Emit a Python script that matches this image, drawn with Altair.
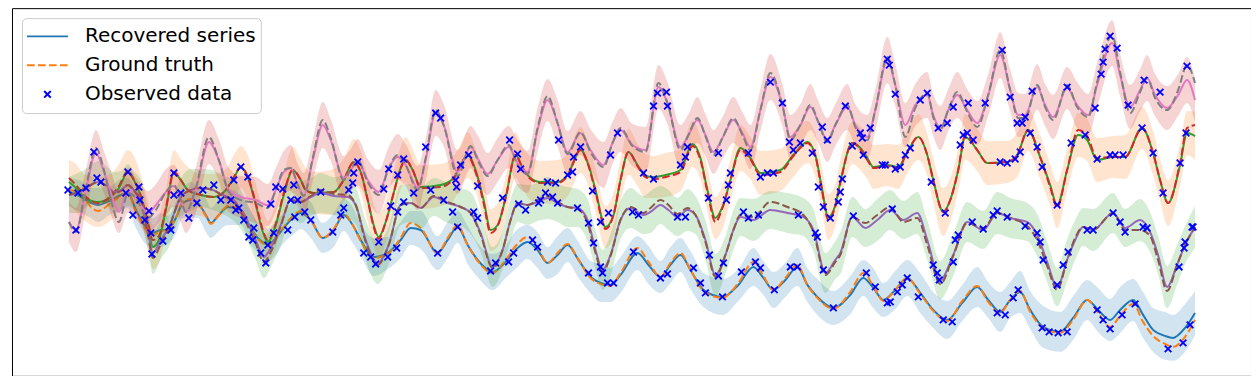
import altair as alt
import pandas as pd

TAB = ["#1f77b4", "#ff7f0e", "#2ca02c", "#d62728", "#9467bd", "#8c564b", "#e377c2", "#7f7f7f"]
XPATH = "M-1,-1L1,1M-1,1L1,-1"
XPATH_LEGEND = "M-0.16,-0.16L0.16,0.16M-0.16,0.16L0.16,-0.16"
DASH = [7.7, 3.3]

# (t, recovered, ground truth, band half-width)
rows_A = [(68,192,190,14),(80,197,194,16),(90,203,207,15),(97,205,211,17),(110,200,203,14),(120,195,196,16),(127,193,193,15),(135,210,212,18),(147,230,232,16),(152,233,235,15),(160,230,231,17),(167,230,230,14),(175,218,218,16),(182,203,202,15),(190,200,199,18),(197,203,203,15),(205,215,216,17),(210,223,224,15),(218,215,215,16),(227,207,206,18),(240,210,210,15),(250,228,229,17),(257,238,239,15),(263,243,244,18),(267,245,246,16),(275,238,238,17),(283,228,227,15),(292,218,216,17),(300,213,211,16),(310,220,220,18),(322,238,238,15),(333,230,229,17),(343,215,214,16),(352,225,225,18),(360,240,241,16),(373,257,258,19),(387,253,254,16),(400,240,238,18),(410,228,223,17),(420,230,228,19),(437,253,253,17),(447,240,238,18),(457,227,225,16),(467,245,245,19),(477,260,261,17),(492,272,273,18),(505,262,260,16),(515,250,246,19),(527,242,237,17),(537,250,247,18),(547,263,263,16),(557,255,253,19),(567,245,244,17),(578,260,260,18),(590,277,278,16),(600,283,284,19),(610,285,286,17),(620,275,273,18),(637,253,248,17),(648,265,262,19),(660,277,277,16),(670,265,263,18),(680,255,253,17),(690,270,270,19),(703,290,291,17),(722,297,298,18),(738,285,283,16),(753,267,262,19),(763,278,276,17),(773,290,290,18),(785,280,278,17),(797,267,265,19),(807,285,285,17),(817,297,298,18),(833,308,309,17),(850,295,292,19),(863,278,273,18),(873,288,286,20),(883,300,301,17),(895,290,290,19),(907,278,278,18),(920,293,294,20),(933,310,311,18),(947,320,321,19),(962,303,301,18),(977,287,286,20),(988,300,302,18),(1000,312,313,20),(1010,300,300,18),(1020,292,291,21),(1030,310,312,19),(1043,327,328,21),(1060,332,333,20),(1073,318,320,22),(1087,300,300,20),(1098,310,313,22),(1110,320,327,21),(1120,310,316,23),(1133,300,304,21),(1143,315,322,23),(1153,330,336,22),(1165,336,344,24),(1173,338,347,23),(1185,328,337,24),(1195,313,320,22)]

rows_B = [(68,182,178,22),(75,188,185,24),(83,197,195,23),(97,202,203,25),(110,197,196,23),(118,188,186,24),(127,172,171,22),(133,180,180,24),(140,197,196,22),(147,225,222,24),(152,247,240,22),(158,240,236,23),(165,210,208,21),(173,173,172,23),(180,180,180,21),(187,190,190,23),(200,195,195,21),(213,197,197,23),(225,190,190,21),(233,178,177,23),(240,167,167,21),(247,177,177,22),(255,205,203,21),(262,232,230,23),(267,242,240,21),(275,225,224,22),(283,195,193,21),(292,170,170,23),(300,180,180,21),(305,190,190,22),(313,193,193,21),(333,192,192,23),(343,180,180,21),(353,162,162,23),(360,172,172,21),(367,200,200,22),(373,225,227,21),(378,237,239,23),(385,222,222,21),(393,193,193,22),(400,168,168,21),(405,160,160,23),(412,170,170,21),(420,187,188,22),(440,185,187,21),(453,178,179,22),(460,165,165,21),(467,155,156,23),(475,170,172,21),(483,200,203,22),(490,230,233,21),(497,225,226,22),(505,198,198,21),(515,155,155,23),(522,168,168,21),(530,178,179,22),(540,182,183,21),(557,182,183,22),(567,175,176,21),(580,150,150,23),(588,165,166,21),(595,190,192,22),(605,227,229,21),(613,215,215,22),(620,180,180,21),(628,152,152,23),(637,165,166,21),(645,176,177,22),(653,177,179,21),(665,175,177,22),(680,170,172,21),(692,144,146,23),(700,158,160,21),(707,190,192,22),(715,218,222,21),(722,207,208,22),(730,180,180,21),(740,148,150,23),(750,158,159,21),(760,173,175,22),(780,170,172,21),(793,155,156,22),(807,142,143,21),(815,155,156,22),(821,185,187,21),(828,217,220,23),(835,205,206,21),(840,182,183,22),(852,143,143,21),(860,148,149,22),(867,158,160,21),(873,167,168,22),(887,165,166,21),(898,167,168,22),(907,152,152,21),(918,137,137,23),(927,155,155,21),(933,180,180,22),(943,212,212,24),(950,200,200,22),(958,170,170,21),(965,137,135,23),(977,150,150,21),(987,163,163,22),(1007,162,162,21),(1017,155,155,22),(1028,130,130,21),(1040,157,157,22),(1050,185,187,21),(1057,205,207,23),(1067,170,170,21),(1078,135,130,22),(1087,140,136,21),(1097,160,158,22),(1113,157,157,21),(1125,157,157,22),(1142,128,128,21),(1153,153,153,22),(1160,180,180,21),(1168,203,203,23),(1180,165,163,21),(1187,133,128,22),(1195,136,125,24)]

rows_C = [(68,195,195,18),(77,193,192,20),(88,186,186,19),(97,182,182,21),(105,185,186,19),(113,192,193,20),(120,190,191,19),(127,185,185,21),(133,190,191,19),(140,200,202,20),(147,230,234,19),(152,253,258,21),(160,240,244,19),(168,227,228,20),(180,197,197,19),(190,190,190,21),(200,188,188,19),(212,190,190,20),(222,195,196,19),(233,200,202,21),(243,215,218,19),(255,240,244,20),(263,257,262,21),(270,248,252,19),(280,225,226,20),(290,200,200,19),(300,202,202,21),(310,197,196,19),(320,193,190,20),(333,196,194,19),(347,197,195,21),(355,205,205,19),(365,240,242,20),(377,263,265,21),(388,245,245,19),(400,205,205,20),(410,203,203,19),(420,208,208,21),(433,197,196,19),(447,203,202,20),(460,207,207,19),(470,213,213,21),(480,233,235,19),(492,267,268,20),(502,250,250,19),(510,220,220,21),(517,203,203,19),(527,205,205,20),(537,202,200,19),(547,198,196,21),(557,203,202,19),(567,207,207,20),(577,208,209,19),(587,220,223,21),(595,250,253,19),(602,270,272,20),(610,255,256,21),(620,220,220,19),(630,208,207,20),(643,215,213,19),(650,212,208,21),(660,205,200,19),(668,210,205,20),(677,217,214,19),(687,210,208,21),(695,215,215,19),(705,240,242,20),(715,275,277,21),(725,255,255,19),(733,230,230,20),(740,217,215,19),(753,220,217,21),(770,210,202,19),(787,213,207,20),(803,217,215,19),(813,230,232,21),(825,273,275,20),(835,260,262,19),(840,253,255,21),(852,217,217,20),(865,228,223,19),(877,220,215,21),(890,210,207,20),(903,220,222,19),(917,213,218,21),(927,240,245,20),(940,280,284,19),(953,255,256,21),(967,222,223,20),(983,230,228,19),(997,213,213,21),(1010,218,218,20),(1027,222,226,19),(1037,235,240,21),(1047,262,266,20),(1057,287,290,19),(1067,260,260,21),(1075,240,238,20),(1083,227,227,19),(1093,230,230,21),(1113,213,213,20),(1125,228,230,19),(1140,220,230,21),(1150,232,236,20),(1158,255,260,19),(1167,287,291,21),(1177,265,265,20),(1185,245,245,19),(1195,227,227,21)]

rows_D = [(68,222,222,20),(75,230,232,22),(85,190,188,21),(95,153,148,23),(103,172,170,21),(110,193,200,22),(118,212,222,21),(127,190,193,23),(135,198,198,21),(147,213,218,22),(155,205,210,21),(165,192,192,23),(173,186,185,21),(180,200,200,22),(185,212,212,21),(195,190,188,23),(208,142,137,22),(218,160,160,21),(228,190,192,22),(240,197,200,21),(255,200,203,23),(267,205,208,21),(275,190,190,22),(283,172,170,21),(290,168,168,23),(297,185,185,21),(303,195,196,22),(312,160,158,21),(322,125,120,23),(330,140,138,21),(343,178,180,22),(350,170,170,21),(357,162,160,23),(367,180,182,21),(378,192,195,22),(388,168,168,21),(397,157,155,23),(405,165,165,21),(417,188,190,22),(425,160,158,21),(435,113,110,23),(443,125,125,21),(457,172,176,22),(470,147,146,21),(478,160,162,23),(487,174,176,21),(497,160,160,22),(508,147,145,21),(517,163,165,23),(527,172,174,21),(537,130,128,22),(547,100,96,21),(557,123,123,23),(567,152,154,21),(580,133,132,22),(590,150,152,21),(603,165,167,23),(612,143,143,21),(620,130,128,22),(632,145,146,21),(645,150,152,23),(658,87,83,22),(667,103,103,21),(680,147,150,22),(688,135,135,21),(697,120,118,23),(705,135,136,21),(713,152,155,22),(722,138,138,21),(733,120,118,23),(742,133,135,21),(750,147,150,22),(760,110,110,21),(770,77,73,23),(782,105,105,21),(790,137,140,22),(800,125,125,21),(810,107,105,23),(818,122,122,21),(827,140,142,22),(835,125,125,21),(847,107,105,23),(855,125,127,21),(867,137,140,22),(875,110,110,21),(887,60,57,23),(895,85,85,21),(905,125,137,22),(915,105,108,21),(927,95,93,23),(933,115,117,21),(940,128,130,22),(948,110,110,21),(957,95,92,23),(967,110,112,21),(977,123,127,22),(988,95,95,21),(1000,55,50,23),(1010,90,90,21),(1018,115,118,22),(1025,115,118,21),(1037,87,85,23),(1045,105,107,21),(1053,117,120,22),(1067,88,85,21),(1077,105,107,23),(1088,115,117,21),(1097,85,82,22),(1112,43,35,23),(1120,75,72,21),(1130,107,113,22),(1140,90,92,21),(1147,78,78,23),(1155,95,98,21),(1167,108,110,22),(1178,95,90,21),(1187,80,65,23),(1195,100,83,22)]

A_t, A_rec, A_gt, A_hw = map(list, zip(*rows_A))
B_t, B_rec, B_gt, B_hw = map(list, zip(*rows_B))
C_t, C_rec, C_gt, C_hw = map(list, zip(*rows_C))
D_t, D_rec, D_gt, D_hw = map(list, zip(*rows_D))

obs = [(67,190),(75,230),(77,193),(85,188),(93,152),(96,178),(100,182),(127,172),(125,193),(132,215),(138,187),(139,200),(144,220),(148,211),(150,233),(151,254),(162,241),(168,227),(170,230),(173,173),(180,193),(173,195),(188,218),(196,203),(202,190),(213,185),(220,200),(230,200),(233,180),(235,210),(238,208),(240,167),(243,220),(247,177),(248,237),(252,240),(253,228),(260,253),(265,263),(267,245),(270,204),(273,233),(275,187),(282,189),(287,230),(290,200),(293,185),(294,217),(297,200),(304,212),(310,220),(320,192),(332,232),(340,215),(343,208),(348,190),(352,183),(353,173),(357,162),(363,253),(370,257),(375,264),(378,242),(383,189),(387,257),(388,169),(390,206),(397,212),(397,175),(396,248),(403,159),(403,202),(413,193),
       (425,147),(435,113),(440,118),(430,190),(437,253),(443,200),(452,212),(455,180),(456,187),(457,227),(460,165),(468,155),(473,212),(477,186),(477,218),(490,271),(495,263),(502,198),(508,262),(509,140),(513,253),(517,154),(518,204),(520,169),(525,210),(532,240),(537,247),(538,203),(540,200),(545,193),(547,182),(552,197),(555,183),(557,203),(558,140),(567,175),(572,172),(573,157),(577,208),(580,147),(588,273),(588,223),(592,191),(593,243),(600,222),(600,267),(602,273),(607,283),(608,213),(610,155),(613,283),(617,133),(632,212),(633,252),(638,215),(643,173),(653,179),(653,106),(657,93),(666,92),(667,106),(660,278),(667,274),(677,217),(680,165),(685,217),(685,157),(687,147),(693,268),(700,283),(705,293),(708,198),(709,255),(718,153),(718,276),(722,297),(723,263),(726,200),(730,173),(728,185),(741,272),(743,212),(748,218),(748,153),(755,262),(758,215),(760,177),(760,268),(767,173),(770,82),(773,173),(774,290),(782,103),(789,142),(790,267),(793,150),(797,267),(798,215),(800,143),(812,153),(815,233),(817,237),(818,187),(822,127),(823,207),(823,270),(827,140),(830,218),(833,308),(838,202),
       (840,192),(842,179),(845,106),(852,146),(853,216),(860,133),(862,138),(863,155),(866,273),(870,128),(875,287),(882,165),(885,165),(887,59),(887,303),(889,65),(890,302),(892,209),(895,169),(895,94),(897,292),(900,167),(902,285),(905,155),(907,278),(910,148),(918,297),(920,100),(927,93),(931,182),(933,265),(937,273),(938,128),(939,280),(945,213),(947,123),(943,320),(952,322),(953,262),(953,107),(955,240),(958,235),(960,145),(963,135),(967,133),(968,103),(972,222),(973,140),(983,229),(985,103),(993,215),(997,211),(997,313),(1000,162),(1002,50),(1005,315),(1007,163),(1007,217),(1010,97),(1013,298),(1015,159),(1018,290),(1017,123),(1020,152),(1022,123),(1025,226),(1025,117),(1030,133),(1032,91),(1037,147),(1037,233),(1040,242),(1042,167),(1042,328),(1043,260),(1049,332),(1057,205),(1057,285),(1058,333),(1063,265),(1067,87),(1067,332),(1068,252),(1071,143),(1085,135),(1087,230),(1093,230),(1095,108),(1097,159),(1097,310),(1101,74),(1103,62),(1103,320),(1105,49),(1110,36),(1110,155),(1110,329),(1113,213),(1115,155),(1117,48),(1120,222),(1123,155),(1122,315),(1125,232),(1128,105),(1135,304),(1142,128),(1143,227),(1144,80),(1147,228),(1153,153),(1160,92),(1163,193),(1168,349),(1179,267),(1180,163),(1183,343),(1184,248),(1185,242),(1186,133),(1187,66),(1190,325),(1192,227),(1193,227)]
obs_t, obs_v = map(list, zip(*obs))

legend_labels = ["Recovered series", "Ground truth", "Observed data"]

# series: (t, rec, gt, halfwidth, line colour, truth colour, band colour)
series = [
    (A_t, A_rec, A_gt, A_hw, TAB[0], TAB[1], TAB[0]),
    (B_t, B_rec, B_gt, B_hw, TAB[2], TAB[3], TAB[1]),
    (C_t, C_rec, C_gt, C_hw, TAB[4], TAB[5], TAB[2]),
    (D_t, D_rec, D_gt, D_hw, TAB[6], TAB[7], TAB[3]),
]

xs = alt.Scale(domain=[11, 1251], nice=False, zero=False)
ys = alt.Scale(domain=[8, 376], reverse=True, nice=False, zero=False)
X = alt.X("t:Q", scale=xs, axis=None)

layers = []
for t, rec, gt, hw, c_rec, c_gt, c_band in series:
    band = pd.DataFrame({"t": t, "lo": [r - h for r, h in zip(rec, hw)], "hi": [r + h for r, h in zip(rec, hw)]})
    line = pd.DataFrame({"t": t, "rec": rec, "gt": gt})
    layers.append(alt.Chart(band).mark_area(color=c_band, opacity=0.2, interpolate="monotone", clip=True).encode(
        x=X, y=alt.Y("lo:Q", scale=ys, axis=None), y2="hi:Q"))
    layers.append(alt.Chart(line).mark_line(color=c_rec, strokeWidth=2, interpolate="monotone", clip=True).encode(
        x=X, y=alt.Y("rec:Q", scale=ys, axis=None)))
    layers.append(alt.Chart(line).mark_line(color=c_gt, strokeWidth=2, strokeDash=DASH, interpolate="monotone", clip=True).encode(
        x=X, y=alt.Y("gt:Q", scale=ys, axis=None)))

obs_df = pd.DataFrame({"t": obs_t, "v": obs_v})
layers.append(alt.Chart(obs_df).mark_point(shape=XPATH, size=44, strokeWidth=1.8, color="#0000ff", filled=False, opacity=1, clip=True).encode(
    x=X, y=alt.Y("v:Q", scale=ys, axis=None)))

leg_df = pd.DataFrame({"entry": legend_labels, "t": [None] * 3, "v": [None] * 3})
layers.append(alt.Chart(leg_df).mark_point(filled=False, opacity=1, strokeWidth=2).encode(
    x=X, y=alt.Y("v:Q", scale=ys, axis=None),
    color=alt.Color("entry:N", title=None, scale=alt.Scale(domain=legend_labels, range=[TAB[0], TAB[1], "#0000ff"])),
    shape=alt.Shape("entry:N", title=None, scale=alt.Scale(domain=legend_labels, range=["stroke", "stroke", XPATH_LEGEND])),
    strokeDash=alt.StrokeDash("entry:N", title=None, scale=alt.Scale(domain=legend_labels, range=[[1, 0], DASH, [1, 0]])),
))

chart = alt.layer(*layers).properties(
    width=1240, height=368, padding={"left": 4, "top": 0, "right": 0, "bottom": 0}
).configure_view(stroke="black", strokeWidth=1).configure_legend(
    orient="none", legendX=10, legendY=10, padding=4, strokeColor="#cccccc",
    fillColor="rgba(255,255,255,0.8)", cornerRadius=4,
    labelFont="DejaVu Sans", labelFontSize=20, labelColor="black", labelLimit=400,
    labelOffset=16, clipHeight=28.5, rowPadding=0, symbolStrokeWidth=2, symbolSize=1681
)

chart.save("out.html", embed_options={"renderer": "svg", "actions": False})
